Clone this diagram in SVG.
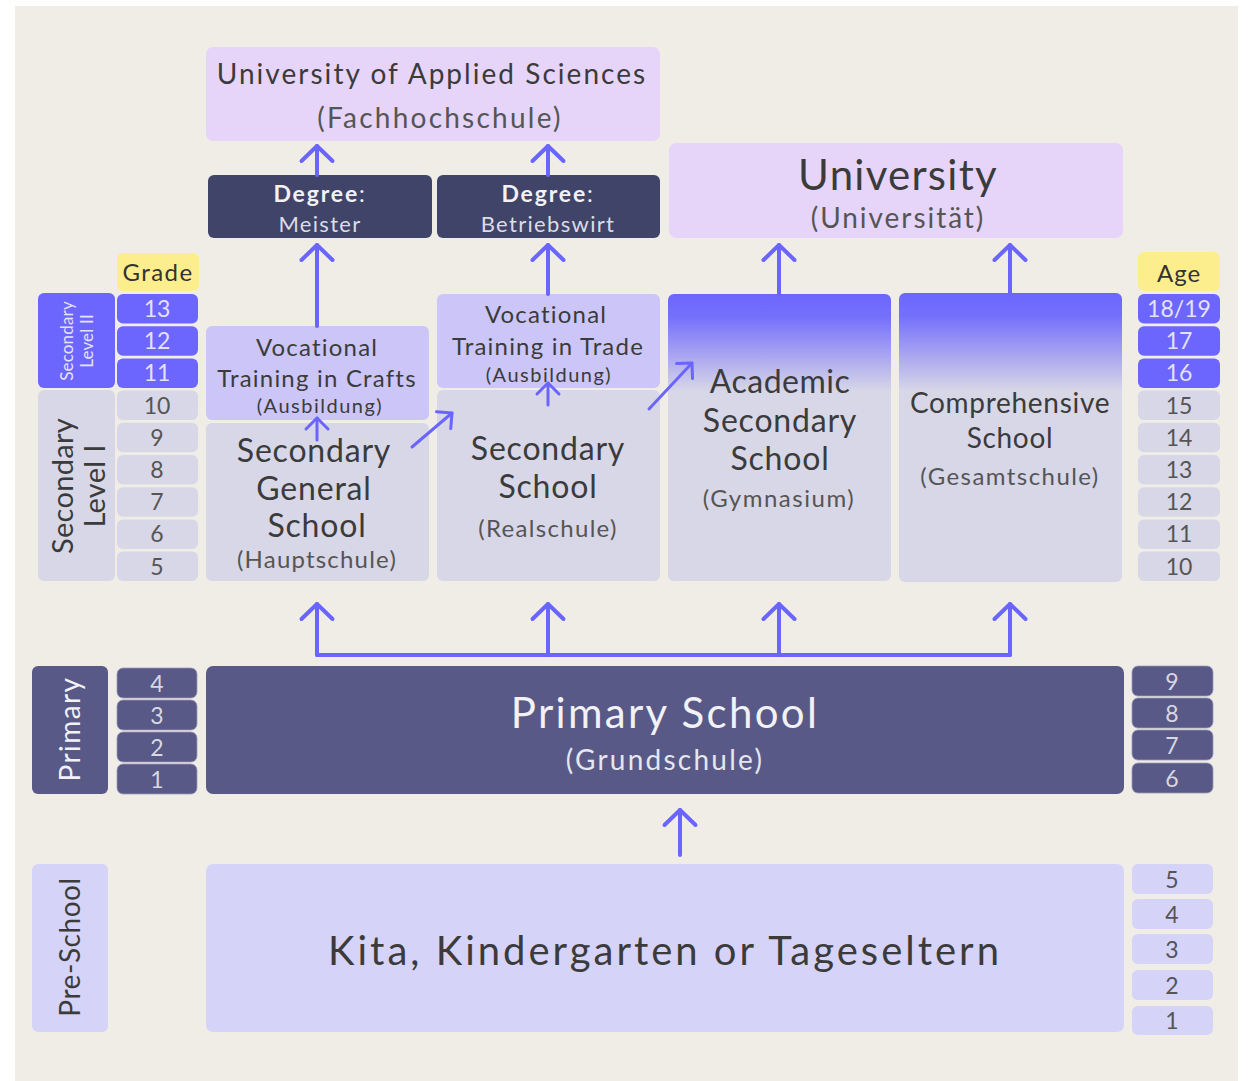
<svg xmlns="http://www.w3.org/2000/svg" width="1255" height="1081" viewBox="0 0 1255 1081">
<defs>
<style>
text{font-family:Lato,"Open Sans","Liberation Sans",sans-serif;text-anchor:middle;letter-spacing:0.06em}
.big{letter-spacing:0.025em}
.rot{letter-spacing:0.01em}
.num{letter-spacing:0}
.dk{fill:#3b3b3b}
.md{fill:#555555}
.lt{fill:#f1f1f6}
.lt2{fill:#e4e2f5}
.conn path{fill:none;stroke:#6b65ff;stroke-width:4;stroke-linecap:round;stroke-linejoin:round}
.grey{fill:#d8d7e7}
.purple{fill:#6c66ff}
.navy{fill:#585987}
.deg{fill:#3f4468}
.lav{fill:#e6d5f9}
.voc{fill:#ccc6f8}
.pre{fill:#d6d3f8}
.yel{fill:#fdee8d}
.ncell{fill:#585987;stroke:#9a9abb;stroke-width:0.8}
</style>
<linearGradient id="gr" x1="0" y1="0" x2="0" y2="1">
<stop offset="0" stop-color="#6c66ff"/>
<stop offset="0.08" stop-color="#7570fb"/>
<stop offset="0.34" stop-color="#d8d7e7"/>
<stop offset="1" stop-color="#d8d7e7"/>
</linearGradient>
<marker id="ah" markerUnits="userSpaceOnUse" viewBox="-20 -20 40 40" markerWidth="40" markerHeight="40" refX="0" refY="0" orient="auto" overflow="visible">
<path d="M-15 -15.5 L0 0 L-15 15.5" fill="none" stroke="#6b65ff" stroke-width="4" stroke-linecap="round" stroke-linejoin="round"/>
</marker>
<marker id="as" markerUnits="userSpaceOnUse" viewBox="-20 -20 40 40" markerWidth="40" markerHeight="40" refX="0" refY="0" orient="auto" overflow="visible">
<path d="M-11 -11 L0 0 L-11 11" fill="none" stroke="#6b65ff" stroke-width="3" stroke-linecap="round" stroke-linejoin="round"/>
</marker>
</defs>
<rect x="0" y="0" width="1255" height="1081" fill="#ffffff"/>
<rect x="15" y="6" width="1223" height="1075" fill="#f0ede7"/>

<g id="fachhochschule">
<rect class="lav" x="206" y="47" width="454" height="94" rx="7"/>
<text class="dk" x="432" y="84" font-size="28" style="letter-spacing:0.073em">University of Applied Sciences</text>
<text class="md" x="440" y="128" font-size="28" style="letter-spacing:0.08em">(Fachhochschule)</text>
</g>
<g id="degree-meister">
<rect class="deg" x="208" y="175" width="224" height="63" rx="6"/>
<text class="lt" x="320" y="202" font-size="23" style="letter-spacing:0.08em"><tspan font-weight="bold">Degree</tspan>:</text>
<text x="320" y="232" font-size="22" fill="#dcdce6">Meister</text>
</g>
<g id="degree-betriebswirt">
<rect class="deg" x="437" y="175" width="223" height="63" rx="6"/>
<text class="lt" x="548" y="202" font-size="23" style="letter-spacing:0.08em"><tspan font-weight="bold">Degree</tspan>:</text>
<text x="548" y="232" font-size="22" fill="#dcdce6">Betriebswirt</text>
</g>
<g id="university">
<rect class="lav" x="669" y="143" width="454" height="95" rx="7"/>
<text class="dk" x="898" y="190" font-size="42" style="letter-spacing:0.03em">University</text>
<text class="md" x="898" y="228" font-size="28" style="letter-spacing:0.07em">(Universität)</text>
</g>

<g id="grade-header">
<rect class="yel" x="117" y="253" width="82" height="38" rx="6"/>
<text fill="#333" x="158" y="281" font-size="24">Grade</text>
</g>
<g id="age-header">
<rect class="yel" x="1138" y="252" width="82" height="39" rx="6"/>
<text fill="#333" x="1179" y="282" font-size="24" style="letter-spacing:0.04em">Age</text>
</g>

<g id="label-secondary-level-2">
<rect class="purple" x="38" y="293" width="77" height="95" rx="6"/>
<g transform="translate(76,341) rotate(-90)">
<text class="lt2 rot" x="0" y="-3" font-size="17">Secondary</text>
<text class="lt2 rot" x="0" y="17" font-size="17">Level II</text>
</g>
</g>
<g id="label-secondary-level-1">
<rect class="grey" x="38" y="390" width="77" height="191" rx="6"/>
<g transform="translate(76,486) rotate(-90)">
<text class="dk rot" x="0" y="-3" font-size="29">Secondary</text>
<text class="dk rot" x="0" y="29" font-size="29">Level I</text>
</g>
</g>

<g id="grades-secondary" font-size="23">
<rect class="purple" x="117" y="294" width="81" height="29.5" rx="6"/><text class="lt2 num" x="157" y="317">13</text>
<rect class="purple" x="117" y="326.2" width="81" height="29.5" rx="6"/><text class="lt2 num" x="157" y="349.2">12</text>
<rect class="purple" x="117" y="358.4" width="81" height="29.5" rx="6"/><text class="lt2 num" x="157" y="381.4">11</text>
<rect class="grey" x="117" y="390.6" width="81" height="29.5" rx="6"/><text class="md num" x="157" y="413.6">10</text>
<rect class="grey" x="117" y="422.8" width="81" height="29.5" rx="6"/><text class="md num" x="157" y="445.8">9</text>
<rect class="grey" x="117" y="455" width="81" height="29.5" rx="6"/><text class="md num" x="157" y="478">8</text>
<rect class="grey" x="117" y="487.2" width="81" height="29.5" rx="6"/><text class="md num" x="157" y="510.2">7</text>
<rect class="grey" x="117" y="519.4" width="81" height="29.5" rx="6"/><text class="md num" x="157" y="542.4">6</text>
<rect class="grey" x="117" y="551.6" width="81" height="29.5" rx="6"/><text class="md num" x="157" y="574.6">5</text>
</g>
<g id="ages-secondary" font-size="23">
<rect class="purple" x="1138" y="294" width="82" height="29.5" rx="6"/><text class="lt2 num" x="1179" y="317">18/19</text>
<rect class="purple" x="1138" y="326.2" width="82" height="29.5" rx="6"/><text class="lt2 num" x="1179" y="349.2">17</text>
<rect class="purple" x="1138" y="358.4" width="82" height="29.5" rx="6"/><text class="lt2 num" x="1179" y="381.4">16</text>
<rect class="grey" x="1138" y="390.6" width="82" height="29.5" rx="6"/><text class="md num" x="1179" y="413.6">15</text>
<rect class="grey" x="1138" y="422.8" width="82" height="29.5" rx="6"/><text class="md num" x="1179" y="445.8">14</text>
<rect class="grey" x="1138" y="455" width="82" height="29.5" rx="6"/><text class="md num" x="1179" y="478">13</text>
<rect class="grey" x="1138" y="487.2" width="82" height="29.5" rx="6"/><text class="md num" x="1179" y="510.2">12</text>
<rect class="grey" x="1138" y="519.4" width="82" height="29.5" rx="6"/><text class="md num" x="1179" y="542.4">11</text>
<rect class="grey" x="1138" y="551.6" width="82" height="29.5" rx="6"/><text class="md num" x="1179" y="574.6">10</text>
</g>

<g id="vocational-crafts">
<rect class="voc" x="206" y="326" width="223" height="94" rx="6"/>
<text class="dk" x="317" y="356" font-size="24" style="letter-spacing:0.05em">Vocational</text>
<text class="dk" x="317" y="387" font-size="24" style="letter-spacing:0.05em">Training in Crafts</text>
<text class="dk" x="320" y="413" font-size="20" style="letter-spacing:0.075em">(Ausbildung)</text>
</g>
<g id="hauptschule">
<rect class="grey" x="206" y="423" width="223" height="158" rx="6"/>
<text class="dk big" x="314" y="462" font-size="32">Secondary</text>
<text class="dk big" x="314" y="500" font-size="32">General</text>
<text class="dk big" x="317" y="537" font-size="32">School</text>
<text class="md" x="317" y="568" font-size="24" style="letter-spacing:0.05em">(Hauptschule)</text>
</g>
<g id="vocational-trade">
<rect class="voc" x="437" y="294" width="223" height="94" rx="6"/>
<text class="dk" x="546" y="323" font-size="24" style="letter-spacing:0.05em">Vocational</text>
<text class="dk" x="548" y="355" font-size="24" style="letter-spacing:0.05em">Training in Trade</text>
<text class="dk" x="549" y="382" font-size="20" style="letter-spacing:0.075em">(Ausbildung)</text>
</g>
<g id="realschule">
<rect class="grey" x="437" y="390" width="223" height="191" rx="6"/>
<text class="dk big" x="548" y="460" font-size="32">Secondary</text>
<text class="dk big" x="548" y="498" font-size="32">School</text>
<text class="md" x="548" y="537" font-size="24" style="letter-spacing:0.055em">(Realschule)</text>
</g>
<g id="gymnasium">
<rect fill="url(#gr)" x="668" y="294" width="223" height="287" rx="6"/>
<text class="dk" x="780" y="393" font-size="32" style="letter-spacing:0.015em">Academic</text>
<text class="dk big" x="780" y="432" font-size="32">Secondary</text>
<text class="dk big" x="780" y="470" font-size="32">School</text>
<text class="md" x="779" y="507" font-size="24" style="letter-spacing:0.064em">(Gymnasium)</text>
</g>
<g id="gesamtschule">
<rect fill="url(#gr)" x="899" y="293" width="223" height="289" rx="6"/>
<text class="dk big" x="1010" y="413" font-size="28">Comprehensive</text>
<text class="dk big" x="1010" y="448" font-size="28">School</text>
<text class="md" x="1010" y="485" font-size="24">(Gesamtschule)</text>
</g>

<g id="label-primary">
<rect class="navy" x="32" y="666" width="76" height="128" rx="6"/>
<g transform="translate(70,729) rotate(-90)">
<text class="lt" x="0" y="10" font-size="28" style="letter-spacing:0.05em">Primary</text>
</g>
</g>
<g id="grades-primary" font-size="23">
<rect class="ncell" x="117" y="668" width="80" height="30" rx="6"/><text class="num" fill="#d8d8e4" x="157" y="692">4</text>
<rect class="ncell" x="117" y="700" width="80" height="30" rx="6"/><text class="num" fill="#d8d8e4" x="157" y="724">3</text>
<rect class="ncell" x="117" y="732" width="80" height="30" rx="6"/><text class="num" fill="#d8d8e4" x="157" y="756">2</text>
<rect class="ncell" x="117" y="764" width="80" height="30" rx="6"/><text class="num" fill="#d8d8e4" x="157" y="788">1</text>
</g>
<g id="primary-school">
<rect class="navy" x="206" y="666" width="918" height="128" rx="7"/>
<text class="lt" x="665" y="728" font-size="42" style="letter-spacing:0.055em">Primary School</text>
<text fill="#e6e6ee" x="665" y="770" font-size="28" style="letter-spacing:0.08em">(Grundschule)</text>
</g>
<g id="ages-primary" font-size="23">
<rect class="ncell" x="1132" y="666" width="81" height="30" rx="6"/><text class="num" fill="#d8d8e4" x="1172" y="690">9</text>
<rect class="ncell" x="1132" y="698" width="81" height="30" rx="6"/><text class="num" fill="#d8d8e4" x="1172" y="722">8</text>
<rect class="ncell" x="1132" y="730" width="81" height="30" rx="6"/><text class="num" fill="#d8d8e4" x="1172" y="754">7</text>
<rect class="ncell" x="1132" y="763" width="81" height="30" rx="6"/><text class="num" fill="#d8d8e4" x="1172" y="787">6</text>
</g>

<g id="label-pre-school">
<rect class="pre" x="32" y="864" width="76" height="168" rx="6"/>
<g transform="translate(70,947) rotate(-90)">
<text class="dk" x="0" y="10" font-size="28" style="letter-spacing:0.02em">Pre-School</text>
</g>
</g>
<g id="kita">
<rect class="pre" x="206" y="864" width="918" height="168" rx="7"/>
<text class="dk" x="665" y="965" font-size="40" style="letter-spacing:0.075em">Kita, Kindergarten or Tageseltern</text>
</g>
<g id="ages-pre-school" font-size="23">
<rect class="pre" x="1132" y="864" width="81" height="30" rx="6"/><text class="md num" x="1172" y="888">5</text>
<rect class="pre" x="1132" y="899" width="81" height="30" rx="6"/><text class="md num" x="1172" y="923">4</text>
<rect class="pre" x="1132" y="934" width="81" height="30" rx="6"/><text class="md num" x="1172" y="958">3</text>
<rect class="pre" x="1132" y="970" width="81" height="30" rx="6"/><text class="md num" x="1172" y="994">2</text>
<rect class="pre" x="1132" y="1006" width="81" height="29" rx="6"/><text class="md num" x="1172" y="1029">1</text>
</g>

<g id="connectors" class="conn">
<path d="M317 175 L317 146" marker-end="url(#ah)"/>
<path d="M548 175 L548 146" marker-end="url(#ah)"/>
<path d="M317 326 L317 245" marker-end="url(#ah)"/>
<path d="M548 294 L548 245" marker-end="url(#ah)"/>
<path d="M779 294 L779 245" marker-end="url(#ah)"/>
<path d="M1010 293 L1010 245" marker-end="url(#ah)"/>
<path d="M317 440 L317 418" marker-end="url(#as)" style="stroke-width:3"/>
<path d="M548 405 L548 383" marker-end="url(#as)" style="stroke-width:3"/>
<path d="M412 447 L452 413" marker-end="url(#as)" style="stroke-width:3"/>
<path d="M649 409 L692 363" marker-end="url(#as)" style="stroke-width:3"/>
<path d="M317 655 L1010 655"/>
<path d="M317 655 L317 604" marker-end="url(#ah)"/>
<path d="M548 655 L548 604" marker-end="url(#ah)"/>
<path d="M779 655 L779 604" marker-end="url(#ah)"/>
<path d="M1010 655 L1010 604" marker-end="url(#ah)"/>
<path d="M680 855 L680 810" marker-end="url(#ah)"/>
</g>
</svg>
